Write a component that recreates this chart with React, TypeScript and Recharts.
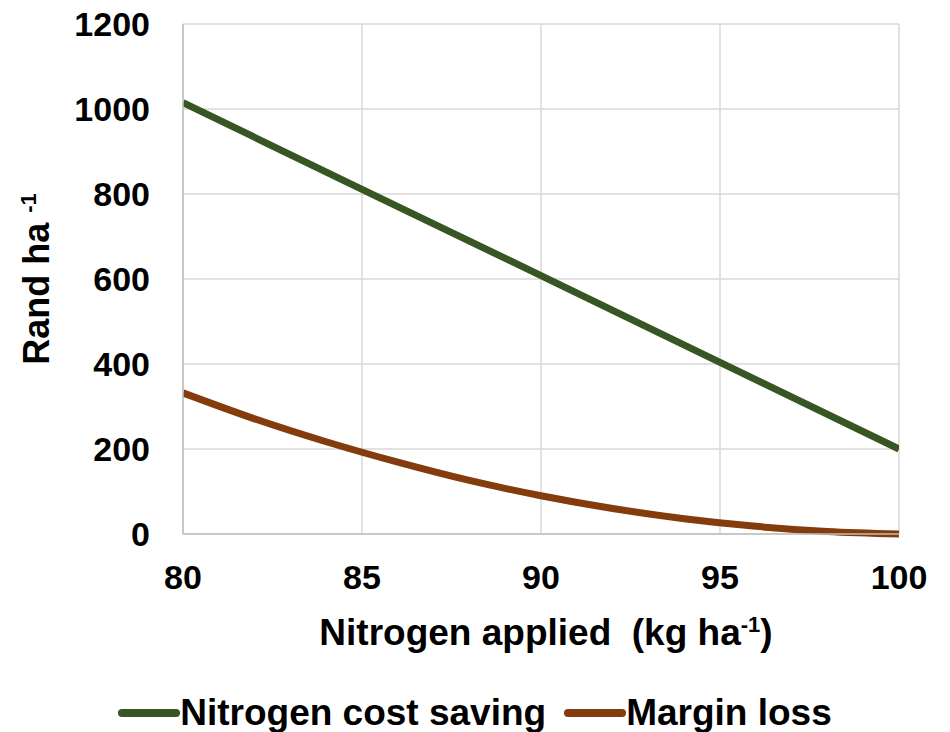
import { LineChart, Line, XAxis, YAxis, CartesianGrid, Legend } from 'recharts'

// nitrogen rate (kg/ha) and the two rand/ha series
const savingRates = [80, 85, 90, 95, 100]
const costSaving = [1015, 811, 608, 404, 200]

const lossRates = [80, 82, 84, 86, 88, 90, 92, 94, 96, 98, 100]
const marginLoss = [332, 271, 217, 169, 126, 90, 60, 36, 18, 6, 0]

const xTicks = [80, 85, 90, 95, 100]
const yTicks = [0, 200, 400, 600, 800, 1000, 1200]

const GREEN = '#375623'
const BROWN = '#843C0C'
const FONT = '"Liberation Sans", Arial, sans-serif'

const savingData = savingRates.map((n, i) => ({ n, saving: costSaving[i] }))
const lossData = lossRates.map((n, i) => ({ n, loss: marginLoss[i] }))

const legendItems = [
  { name: 'Nitrogen cost saving', color: GREEN },
  { name: 'Margin loss', color: BROWN },
]

function ChartLegend() {
  return (
    <div style={{ height: 39, display: 'flex', justifyContent: 'center', alignItems: 'center', fontFamily: FONT, fontWeight: 700, fontSize: 37, lineHeight: '39px', color: '#000' }}>
      {legendItems.map((it, i) => (
        <div key={it.name} style={{ display: 'flex', alignItems: 'center', marginRight: i === 0 ? 18 : 0 }}>
          <svg width={62} height={12}>
            <line x1={4} y1={6} x2={58} y2={6} stroke={it.color} strokeWidth={8} strokeLinecap="round" />
          </svg>
          <span>{it.name}</span>
        </div>
      ))}
    </div>
  )
}

function XTitle({ viewBox }: any) {
  const cx = viewBox.x + viewBox.width / 2 + 5
  return (
    <text x={cx} y={viewBox.y + 111} textAnchor="middle" fontFamily={FONT} fontWeight={700} fontSize={37} fill="#000">
      Nitrogen applied{'\u00a0\u00a0'}(kg ha<tspan dy={-13} fontSize={22}>-1</tspan><tspan dy={13}>)</tspan>
    </text>
  )
}

function YTitle({ viewBox }: any) {
  const cy = viewBox.y + viewBox.height / 2
  const x = 49
  return (
    <text x={x} y={cy} transform={`rotate(-90, ${x}, ${cy})`} textAnchor="middle" fontFamily={FONT} fontWeight={700} fontSize={36} fill="#000">
      Rand ha <tspan dy={-13} fontSize={22}>-1</tspan>
    </text>
  )
}

export default function App() {
  return (
    <div style={{ position: 'absolute', left: 0, top: 0, width: 950, height: 732, background: '#fff' }}>
      <LineChart width={950} height={732} margin={{ top: 24, right: 51, bottom: 0, left: 0 }}>
        <CartesianGrid stroke="#D9D9D9" strokeWidth={1.5} />
        <XAxis
          type="number"
          dataKey="n"
          domain={[80, 100]}
          ticks={xTicks}
          height={159}
          tickLine={false}
          tickSize={0}
          tickMargin={31}
          axisLine={{ stroke: '#BFBFBF', strokeWidth: 1.5 }}
          tick={{ fill: '#000', fontFamily: FONT, fontWeight: 700, fontSize: 34 }}
          label={{ content: XTitle }}
          allowDataOverflow
        />
        <YAxis
          type="number"
          domain={[0, 1200]}
          ticks={yTicks}
          width={183}
          tickLine={false}
          tickSize={0}
          tickMargin={33}
          axisLine={{ stroke: '#BFBFBF', strokeWidth: 1.5 }}
          tick={{ fill: '#000', fontFamily: FONT, fontWeight: 700, fontSize: 34 }}
          label={{ content: YTitle }}
        />
        <Legend verticalAlign="bottom" wrapperStyle={{ left: 0, width: 950 }} content={() => <ChartLegend />} />
        <Line data={savingData} dataKey="saving" name="Nitrogen cost saving" type="linear" stroke={GREEN} strokeWidth={7} dot={false} isAnimationActive={false} />
        <Line data={lossData} dataKey="loss" name="Margin loss" type="monotone" stroke={BROWN} strokeWidth={7} dot={false} isAnimationActive={false} />
      </LineChart>
    </div>
  )
}
